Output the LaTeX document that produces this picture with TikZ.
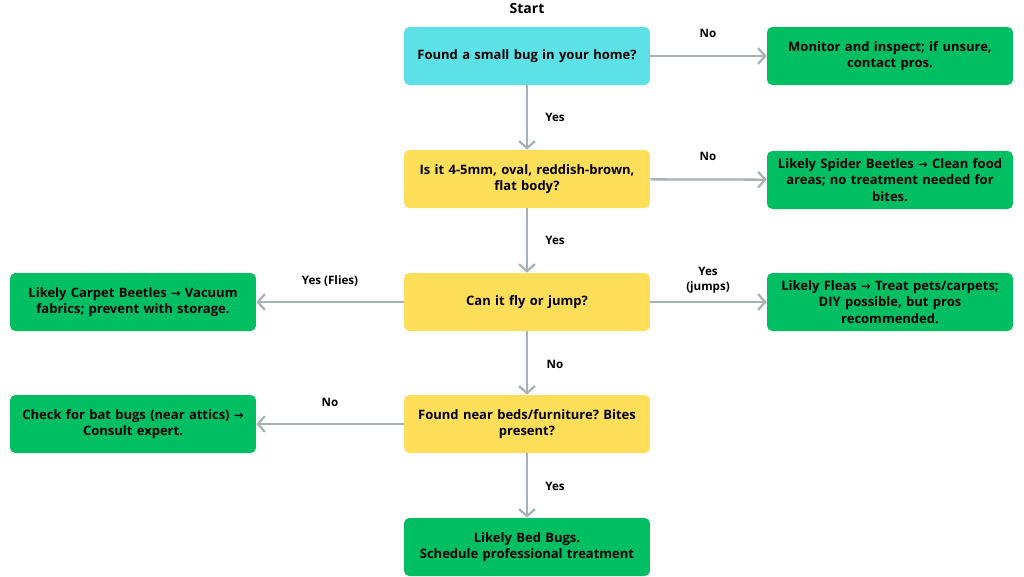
\documentclass[tikz,border=0pt]{standalone}
\usepackage{fontspec}
\setmainfont{Open Sans}
\newfontfamily\arr{DejaVu Sans}
\usetikzlibrary{arrows.meta}
\definecolor{cy}{HTML}{5CE1E6}
\definecolor{yl}{HTML}{FFDE59}
\definecolor{gr}{HTML}{00BF63}
\definecolor{ln}{HTML}{A6B1B8}
\newcommand{\ra}{{\arr\fontsize{6.5}{8}\selectfont→}}
\frenchspacing
\begin{document}
\begin{tikzpicture}[x=0.02cm,y=-0.02cm,
 box/.style={rounded corners=3pt,minimum width=4.92cm,minimum height=1.16cm,text width=4.85cm,align=center,font=\fontsize{7.4}{9.4}\selectfont\bfseries,inner sep=1pt},
 q/.style={box,fill=yl}, g/.style={box,fill=gr},
 lbl/.style={font=\fontsize{6.6}{8.5}\selectfont\bfseries,align=center},
 ar/.style={draw=ln,line width=1.3pt,-{Straight Barb[length=4pt,width=9pt]}}]
\useasboundingbox (0,0) rectangle (1024,576);
\node[lbl,font=\fontsize{8}{10}\selectfont\bfseries] (st) at (527,8) {Start};
\node[box,fill=cy] (a) at (527,56) {Found a small bug in your home?};
\node[g] (m) at (890,56) {Monitor and inspect; if unsure,\\contact pros.};
\node[q] (b) at (527,179) {Is it 4-5mm, oval, reddish-brown,\\flat body?};
\node[g] (s) at (890,180) {Likely Spider Beetles \ra{} Clean food\\areas; no treatment needed for\\bites.};
\node[q] (c) at (527,302) {Can it fly or jump?};
\node[g] (cb) at (133,302) {Likely Carpet Beetles \ra{} Vacuum\\fabrics; prevent with storage.};
\node[g] (f) at (890,302) {Likely Fleas \ra{} Treat pets/carpets;\\DIY possible, but pros\\recommended.};
\node[q] (d) at (527,424) {Found near beds/furniture? Bites\\present?};
\node[g] (bat) at (133,424) {Check for bat bugs (near attics) \ra{}\\Consult expert.};
\node[g] (bed) at (527,547) {Likely Bed Bugs.\\Schedule professional treatment};
\draw[ar] (a) -- (m); \draw[ar] (a) -- (b); \draw[ar] (b) -- (s); \draw[ar] (b) -- (c);
\draw[ar] (c) -- (cb); \draw[ar] (c) -- (f); \draw[ar] (c) -- (d);
\draw[ar] (d) -- (bat); \draw[ar] (d) -- (bed);
\node[lbl] (l1) at (708,33) {No};
\node[lbl] (l2) at (555,117) {Yes};
\node[lbl] (l3) at (708,156) {No};
\node[lbl] (l4) at (555,240) {Yes};
\node[lbl] (l5) at (330,281) {Yes (Flies)};
\node[lbl] (l6) at (708,280) {Yes\\(jumps)};
\node[lbl] (l7) at (555,364) {No};
\node[lbl] (l8) at (330,402) {No};
\node[lbl] (l9) at (555,486) {Yes};
\end{tikzpicture}
\end{document}
